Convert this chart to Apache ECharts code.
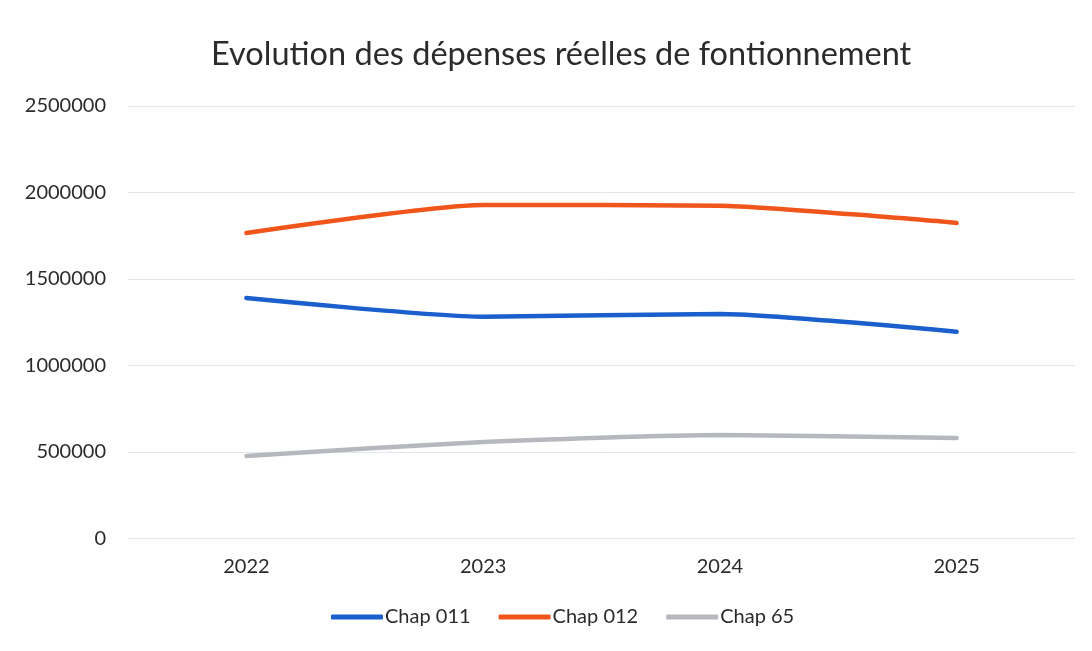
<!DOCTYPE html>
<html style="height: 100%">
<head>
    <meta charset="UTF-8" />
    <title>Evolution des dépenses</title>
    <style>
        html, body { margin: 0; padding: 0; background: #fff; }
        #main { width: 1092px; height: 651px; }
    </style>
</head>
<body>
    <div id="main"></div>
    <script src="https://cdn.jsdelivr.net/npm/echarts@6/dist/echarts.min.js"></script>
    <script>
        /* données */
        var annees = ['2022', '2023', '2024', '2025'];
        var chap011 = [1390000, 1282000, 1298000, 1195000];
        var chap012 = [1766000, 1928000, 1924000, 1824000];
        var chap65 = [477000, 558000, 598000, 581000];
        var yTicks = [0, 500000, 1000000, 1500000, 2000000, 2500000];

        var colors = ['#1a5fcc', '#f0561c', '#b5b9be'];
        var police = 'Lato, "Open Sans", sans-serif';

        var app = echarts.init(document.getElementById('main'));
        var option = {
            color: colors,
            textStyle: {fontFamily: police},
            title: {
                text: 'Evolution des dépenses réelles de fontionnement',
                left: 206,
                top: 33,
                textStyle: {fontFamily: police, fontSize: 32.5, fontWeight: 'normal', color: '#2b2b2b'}
            },
            legend: {
                data: ['Chap 011', 'Chap 012', 'Chap 65'],
                bottom: 19,
                left: 326,
                itemWidth: 52,
                itemHeight: 5,
                itemGap: 28,
                icon: 'roundRect',
                textStyle: {fontSize: 20, color: '#2b2b2b', padding: [0, 0, 0, -3]}
            },
            grid: {left: 128, right: 17, top: 106, bottom: 112.5},
            xAxis: {
                type: 'category',
                data: annees,
                axisLine: {show: false},
                axisTick: {show: false},
                axisLabel: {fontSize: 20, color: '#2b2b2b', margin: 18}
            },
            yAxis: {
                type: 'value',
                min: yTicks[0],
                max: yTicks[yTicks.length - 1],
                interval: yTicks[1] - yTicks[0],
                axisLine: {show: false},
                axisTick: {show: false},
                axisLabel: {fontSize: 20, color: '#2b2b2b', margin: 22, formatter: function (v) { return String(v); }},
                splitLine: {lineStyle: {color: '#e4e6ee', width: 1}}
            },
            series: [
                {name: 'Chap 011', type: 'line', data: chap011, smooth: 0.2, showSymbol: false, lineStyle: {width: 4.5, cap: 'round'}},
                {name: 'Chap 012', type: 'line', data: chap012, smooth: 0.2, showSymbol: false, lineStyle: {width: 4.5, cap: 'round'}},
                {name: 'Chap 65', type: 'line', data: chap65, smooth: 0.2, showSymbol: false, lineStyle: {width: 4.5, cap: 'round'}}
            ]
        };
        app.setOption(option);
    </script>
</body>
</html>
